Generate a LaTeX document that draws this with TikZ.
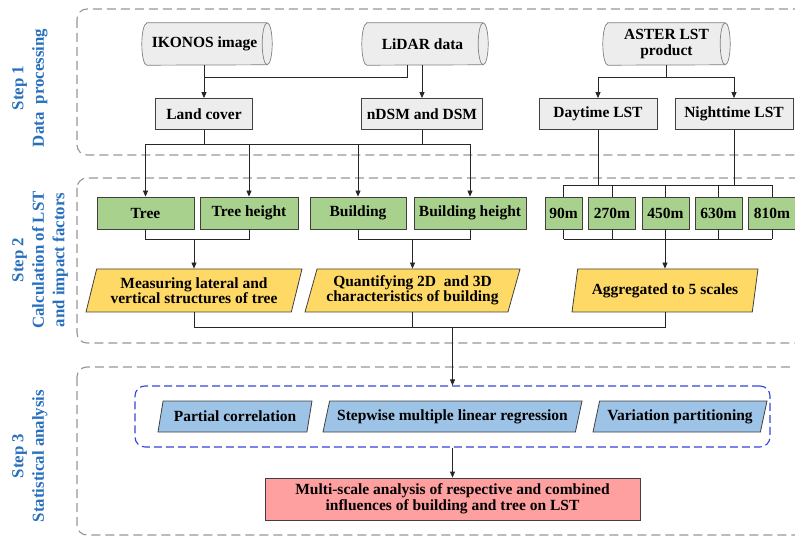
\documentclass[tikz,border=0pt]{standalone}
\usepackage{fontspec}
\setmainfont{Liberation Serif}
\usetikzlibrary{shapes.geometric,arrows.meta,calc}
\definecolor{stepblue}{RGB}{40,112,190}
\definecolor{grayfill}{RGB}{237,237,237}
\definecolor{greenfill}{RGB}{169,209,142}
\definecolor{yellowfill}{RGB}{255,217,102}
\definecolor{bluefill}{RGB}{157,195,230}
\definecolor{pinkfill}{RGB}{255,160,160}
\definecolor{dashblue}{RGB}{50,70,220}
\definecolor{dashgray}{RGB}{150,150,150}
\pgfdeclarelayer{bg}
\pgfsetlayers{bg,main}
\begin{document}
\begin{tikzpicture}[x=1pt,y=-1pt,
  font=\fontsize{15.5}{15.5}\selectfont\bfseries,
  outerbox/.style={draw=dashgray,line width=1.1pt,dash pattern=on 9pt off 5pt,rounded corners=10pt},
  cylbody/.style={rectangle,minimum height=42,inner sep=0pt,align=center},
  cylline/.style={draw=black!50,line width=0.7pt},
  graybox/.style={draw=black!75,fill=grayfill,line width=0.8pt,minimum height=31,inner sep=0pt,align=center},
  greenbox/.style={draw=black!75,fill=greenfill,line width=0.8pt,minimum height=32,inner sep=0pt,align=center},
  yellowpara/.style={trapezium,trapezium left angle=68,trapezium right angle=112,trapezium stretches body,draw=black!75,fill=yellowfill,line width=0.8pt,minimum height=43,inner sep=0pt,align=center},
  bluepara/.style={trapezium,trapezium left angle=65,trapezium right angle=115,trapezium stretches body,draw=black!75,fill=bluefill,line width=0.8pt,minimum height=31,inner sep=0pt,align=center},
  pinkbox/.style={draw=black!75,fill=pinkfill,line width=0.8pt,minimum height=42,inner sep=0pt,align=center},
  steplabel/.style={rotate=90,align=center,text=stepblue,font=\fontsize{16.8}{20.5}\selectfont\bfseries},
  conn/.style={line width=0.8pt,draw=black!85},
  arr/.style={conn,-{Triangle[length=6pt,width=5pt]}}
]
\useasboundingbox (0,0) rectangle (795,537);
\clip (0,0) rectangle (795,537);

% outer step boxes
\draw[outerbox] (77,9) rectangle (830,155);
\draw[outerbox] (77,178) rectangle (830,343);
\draw[outerbox] (77,367) rectangle (830,535);

% step labels
\node[steplabel] (l1) at (30,88) {Step 1\\Data~ processing};
\node[steplabel] (l2) at (40,260) {Step 2\\Calculation of LST\\and impact factors};
\node[steplabel] (l3) at (30,456) {Step 3\\Statistical analysis};

% helper levels
\coordinate (y1) at (0,77);
\coordinate (y2) at (0,144);
\coordinate (y3) at (0,185);
\coordinate (y4) at (0,239);
\coordinate (y5) at (0,327);

% step 1
\node[cylbody,minimum width=120] (ik) at (207,44) {\hspace*{-5pt}IKONOS image};
\node[cylbody,minimum width=116] (li) at (425,44) {\hspace*{-5pt}LiDAR data};
\node[cylbody,minimum width=117] (as) at (666.5,44) {ASTER LST\\product};
\begin{pgfonlayer}{bg}
\foreach \n in {ik,li,as} {
  \draw[cylline,fill=grayfill] (\n.north west) -- (\n.north east)
    arc[start angle=90,end angle=-90,x radius=5pt,y radius=21pt]
    -- (\n.south west)
    arc[start angle=270,end angle=90,x radius=5pt,y radius=21pt] -- cycle;
  \draw[cylline] (\n.north east) arc[start angle=90,end angle=270,x radius=5pt,y radius=21pt];
}
\end{pgfonlayer}
\node[graybox,minimum width=97] (lc) at (204,114) {Land cover};
\node[graybox,minimum width=121] (nd) at (422,114) {nDSM and DSM};
\node[graybox,minimum width=118] (dl) at (598,114) {Daytime LST};
\node[graybox,minimum width=118] (nl) at (734,114) {Nighttime LST};

\draw[arr] (lc.north |- ik.south) -- (lc.north);
\draw[conn] ([xshift=-18pt]li.south) |- (lc.north |- y1);
\draw[arr] (nd.north |- li.south) -- (nd.north);
\draw[conn] (as.south) -- (as.south |- y1);
\draw[arr] (as.south |- y1) -| (dl.north);
\draw[arr] (as.south |- y1) -| (nl.north);

% step 2
\node[greenbox,minimum width=97] (tr) at (145.5,213) {Tree};
\node[greenbox,minimum width=98] (th) at (249,213) {Tree height};
\node[greenbox,minimum width=96] (bu) at (358,213) {Building};
\node[greenbox,minimum width=112] (bh) at (470,213) {Building height};
\node[greenbox,minimum width=37] (s1) at (563.5,213) {90m};
\node[greenbox,minimum width=47] (s2) at (612,213) {270m};
\node[greenbox,minimum width=47] (s3) at (665.5,213) {450m};
\node[greenbox,minimum width=47] (s4) at (718.5,213) {630m};
\node[greenbox,minimum width=47] (s5) at (772,213) {810m};

\draw[conn] (lc.south) -- (lc.south |- y2);
\draw[conn] (nd.south) -- (nd.south |- y2);
\draw[conn] (tr.north |- y2) -- (bh.north |- y2);
\draw[arr] (tr.north |- y2) -- (tr.north);
\draw[arr] (th.north |- y2) -- (th.north);
\draw[arr] (bu.north |- y2) -- (bu.north);
\draw[arr] (bh.north |- y2) -- (bh.north);

\draw[conn] (dl.south) -- (dl.south |- y3);
\draw[conn] (nl.south) -- (nl.south |- y3);
\draw[conn] (s1.north |- y3) -- (s5.north |- y3);
\foreach \s in {s1,s2,s3,s4,s5} {\draw[conn] (\s.north |- y3) -- (\s.north);}

\node[yellowpara,minimum width=216] (me) at (194,290.5) {Measuring lateral and\\vertical structures of tree};
\node[yellowpara,minimum width=215] (qu) at (412.5,290.5) {Quantifying 2D~ and 3D\\characteristics of building};
\node[yellowpara,minimum width=186] (ag) at (665,290.5) {Aggregated to 5 scales};

\draw[conn] (tr.south) -- (tr.south |- y4) -- (th.south |- y4) -- (th.south);
\draw[arr] (me.center |- y4) -- (me.center |- me.north);
\draw[conn] (bu.south) -- (bu.south |- y4) -- (bh.south |- y4) -- (bh.south);
\draw[arr] (qu.center |- y4) -- (qu.center |- qu.north);
\draw[conn] (s1.south |- y4) -- (s5.south |- y4);
\foreach \s in {s1,s2,s3,s4,s5} {\draw[conn] (\s.south) -- (\s.south |- y4);}
\draw[arr] (ag.center |- y4) -- (ag.center |- ag.north);

% step 3
\node[draw=dashblue,line width=1.1pt,dash pattern=on 8pt off 4pt,rounded corners=10pt,minimum width=635,minimum height=61,inner sep=0pt] (sb) at (452.5,416.5) {};
\node[bluepara,minimum width=154] (pc) at (235,416.5) {Partial correlation};
\node[bluepara,minimum width=259] (sw) at (452.5,416.5) {Stepwise multiple linear regression};
\node[bluepara,minimum width=174] (va) at (680,416.5) {Variation partitioning};
\node[pinkbox,minimum width=375] (mu) at (452.5,499) {Multi-scale analysis of respective and combined\\influences of building and tree on LST};

\draw[conn] (me.center |- me.south) -- (me.center |- y5) -- (ag.center |- y5) -- (ag.center |- ag.south);
\draw[conn] (qu.center |- qu.south) -- (qu.center |- y5);
\draw[arr] (sb.north |- y5) -- (sb.north);
\draw[arr] (sb.south) -- (mu.north);
\end{tikzpicture}
\end{document}
